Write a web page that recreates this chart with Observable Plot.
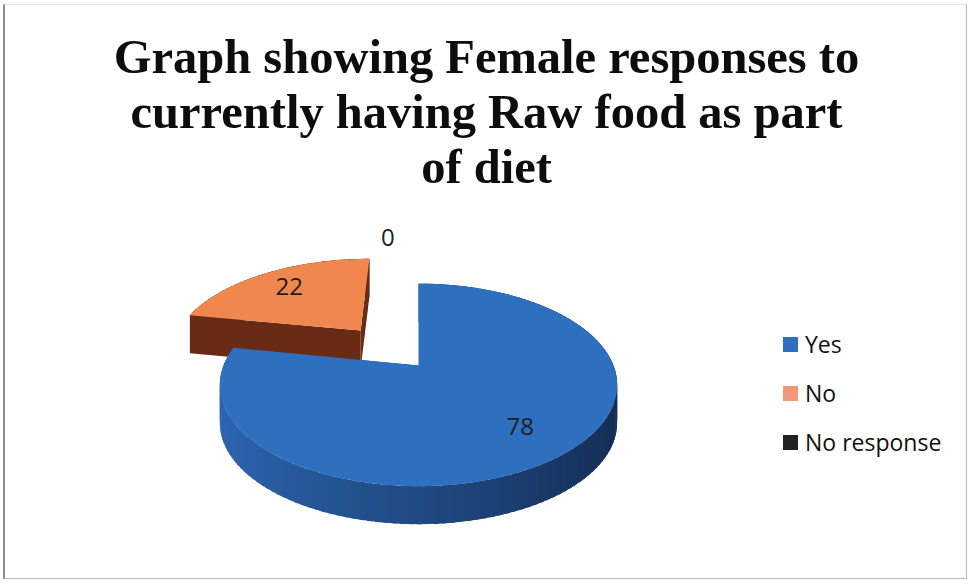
<!DOCTYPE html>
<html>
<head>
<meta charset="utf-8">
<script src="https://cdn.jsdelivr.net/npm/d3@7"></script>
<script src="https://cdn.jsdelivr.net/npm/@observablehq/plot@0.6"></script>
<style>
  html, body { margin: 0; padding: 0; background: #fff; }
  #chart { position: relative; width: 973px; height: 586px; overflow: hidden; background: #fff; }
  #frame { position: absolute; left: 3px; top: 4px; width: 964px; height: 575px;
           border: 1px solid #b8b8b8; border-left: 2px solid #8c8c8c; border-top-color: #e2e2e2; box-sizing: border-box; }
  #title { position: absolute; left: 0; top: 29px; width: 973px; text-align: center;
           font: bold 48.5px/55px "Liberation Serif", "Times New Roman", serif; color: #0d0d0d; }
  #pie { position: absolute; left: 0; top: 0; }
  #legend { position: absolute; left: 783px; top: 328px; }
  #legend .key-swatch { padding-bottom: 17px !important; }
  #legend .key-swatch svg { margin-right: 7px !important; }
</style>
</head>
<body>
<div id="chart">
  <div id="pie"></div>
  <div id="frame"></div>
  <div id="title">Graph showing Female responses to<br>currently having Raw food as part<br>of diet</div>
  <div id="legend"></div>
</div>
<script>
// Survey answers
const categories = ["Yes", "No", "No response"];
const values = [78, 22, 0];

// Palette: top faces, side walls (light/dark ends), legend keys
const topColors = ["#2f6fc0", "#f0874f", "#262626"];
const sideLight = ["#2d67b3", "#74301a", "#333333"];
const sideDark = ["#132c52", "#5c2311", "#111111"];
const keyColors = ["#2f6fc0", "#f4967a", "#222222"];

// 3-D pie geometry
const W = 973, H = 586;
const CX = 418, CY = 365, R = 195;       // centre of the top face, radius in px
const TILT = Math.PI / 6, DIST = 4.51;   // viewing elevation and camera distance (radii)
const THICK = 38 / R;                    // wall height in radii
const explode = [0, 0.5, 0];             // slice pull-out in radii
const STEP = Math.PI / 90;

// perspective projection of a point on the top plane (u right, v toward viewer)
function project(u, v) {
  const d = DIST - v * Math.cos(TILT);
  return [u * DIST / d, v * Math.sin(TILT) * DIST / d];
}
const onTop = (s, a, r) => project(s.ou + r * Math.sin(a), s.ov - r * Math.cos(a));

const arcs = d3.pie().sort(null).startAngle(0).endAngle(2 * Math.PI)(values);
const slices = arcs.map((a, i) => {
  const mid = (a.startAngle + a.endAngle) / 2;
  return {
    i, name: categories[i], value: values[i],
    start: a.startAngle, end: a.endAngle, mid,
    ou: explode[i] * Math.sin(mid), ov: -explode[i] * Math.cos(mid)
  };
});

function arcAngles(s) {
  const n = Math.max(1, Math.ceil((s.end - s.start) / STEP));
  return d3.range(n + 1).map(k => s.start + (s.end - s.start) * k / n);
}

// polygons in painter's order: far slices first, walls before tops
const polys = [];
const drawn = slices.filter(s => s.value > 0).sort((a, b) => a.ov - b.ov);
for (const s of drawn) {
  const sides = [];
  const angles = arcAngles(s);
  const shade = d3.interpolateRgb(sideDark[s.i], sideLight[s.i]);
  for (let k = 0; k < angles.length - 1; k++) {
    const a0 = angles[k], am = (angles[k] + angles[k + 1]) / 2;
    // each wall piece reaches a little past its neighbour so no seams show
    const a1 = Math.min(s.end, angles[k + 1] + STEP * 0.6);
    const p0 = onTop(s, a0, 1), p1 = onTop(s, a1, 1);
    sides.push({
      depth: s.ov - Math.cos(am),
      fill: shade((1 - Math.sin(am)) / 2),
      pts: [p0, p1, [p1[0], p1[1] + THICK], [p0[0], p0[1] + THICK]]
    });
  }
  for (const a of [s.start, s.end]) {
    const c = onTop(s, 0, 0), e = onTop(s, a, 1);
    sides.push({
      depth: s.ov - Math.cos(a) / 2,
      fill: shade(0.55),
      pts: [c, e, [e[0], e[1] + THICK], [c[0], c[1] + THICK]]
    });
  }
  sides.sort((a, b) => a.depth - b.depth);
  for (const f of sides) polys.push({fill: f.fill, pts: f.pts});
  polys.push({fill: topColors[s.i], pts: [onTop(s, 0, 0), ...angles.map(a => onTop(s, a, 1))]});
}
const rows = polys.flatMap((p, id) => p.pts.map(([x, y]) => ({id, x, y, fill: p.fill})));

// value labels on the slices; empty slices get theirs outside the rim
const labels = slices.map(s => {
  const [x, y] = s.value > 0 ? onTop(s, s.mid, 0.73) : onTop(s, s.mid - 0.12, 1.75);
  return {x, y, text: String(s.value)};
});

const pie = Plot.plot({
  width: W, height: H, margin: 0,
  style: {background: "transparent"},
  x: {domain: [-CX / R, (W - CX) / R], axis: null},
  y: {domain: [(H - CY) / R, -CY / R], axis: null},
  color: {type: "identity"},
  marks: [
    Plot.line(rows, {x: "x", y: "y", z: "id", fill: "fill", stroke: "none", curve: "linear-closed"}),
    Plot.text(labels, {x: "x", y: "y", text: "text", fontSize: 24, fontFamily: "'Open Sans', Lato, sans-serif", fill: "#1e1e1e"})
  ]
});
document.getElementById("pie").appendChild(pie);

const key = Plot.legend({
  color: {type: "ordinal", domain: categories, range: keyColors},
  columns: 1,
  swatchSize: 15,
  className: "key",
  style: {fontSize: "23px", fontFamily: "'Open Sans', Lato, sans-serif", color: "#111", background: "transparent"}
});
document.getElementById("legend").appendChild(key);
</script>
</body>
</html>
